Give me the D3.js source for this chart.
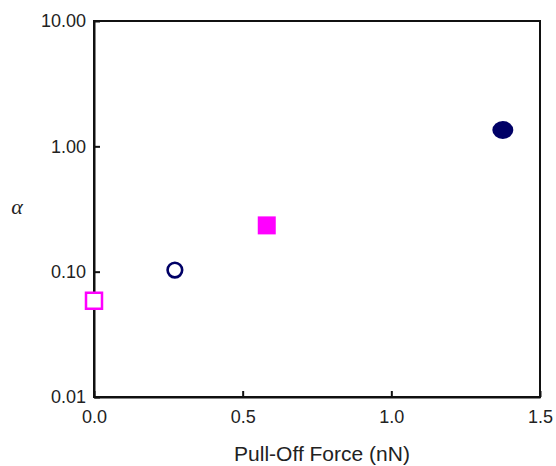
<!DOCTYPE html>
<html><head><meta charset="utf-8">
<script src="https://cdn.jsdelivr.net/npm/d3@7"></script>
<style>body{margin:0;background:#fff}</style>
</head><body>
<svg id="c" width="556" height="466"></svg>
<script>
const xTicks = [0.0, 0.5, 1.0, 1.5];
const yTicks = [0.01, 0.1, 1, 10];
const seriesNames = ["open square", "open circle", "filled square", "filled circle"];
const forceValues = [0.0, 0.272, 0.581, 1.375];
const alphaValues = [0.0586, 0.103, 0.234, 1.35];
const seriesColors = ["#ff00ff", "#000066", "#ff00ff", "#000066"];

const svg = d3.select("#c");
const m = {l: 94, r: 16, t: 21, b: 69};
const W = 556, H = 466;
const x = d3.scaleLinear().domain([0, 1.5]).range([m.l, W - m.r]);
const y = d3.scaleLog().domain([0.01, 10]).range([H - m.b, m.t]);

const font = "Liberation Sans, Arial, sans-serif";

// frame
svg.append("rect").attr("x", m.l).attr("y", m.t)
  .attr("width", x(1.5) - x(0)).attr("height", y(0.01) - y(10))
  .attr("fill", "none").attr("stroke", "#111").attr("stroke-width", 2);

const xa = svg.append("g").attr("transform", `translate(0,${y(0.01)})`)
  .call(d3.axisBottom(x).tickValues(xTicks).tickFormat(d3.format(".1f")).tickSizeInner(-6).tickSizeOuter(0).tickPadding(13));
xa.select(".domain").attr("stroke", "#111").attr("stroke-width", 2);
xa.selectAll(".tick line").attr("stroke", "#111").attr("stroke-width", 2);
xa.selectAll("text").attr("font-family", font).attr("font-size", 18).attr("fill", "#222");

const ya = svg.append("g").attr("transform", `translate(${x(0)},0)`)
  .call(d3.axisLeft(y).tickValues(yTicks).tickFormat(d3.format(".2f")).tickSizeInner(-6).tickSizeOuter(0).tickPadding(8));
ya.select(".domain").attr("stroke", "#111").attr("stroke-width", 2);
ya.selectAll(".tick line").attr("stroke", "#111").attr("stroke-width", 2);
ya.selectAll("text").attr("font-family", font).attr("font-size", 18).attr("fill", "#222");

// labels
svg.append("text").attr("x", 322).attr("y", 461)
  .attr("text-anchor", "middle").attr("font-family", font).attr("font-size", 21).attr("fill", "#222")
  .text("Pull-Off Force (nN)");
svg.append("text").attr("x", 17).attr("y", 214)
  .attr("text-anchor", "middle").attr("font-family", "Liberation Serif, Times New Roman, serif")
  .attr("font-style", "italic").attr("font-size", 22).attr("fill", "#222").text("α");

// points
const data = seriesNames.map((n, i) => ({name: n, f: forceValues[i], a: alphaValues[i], c: seriesColors[i]}));
const g = svg.append("g");
// open square
g.append("rect").datum(data[0])
  .attr("x", d => x(d.f) - 8).attr("y", d => y(d.a) - 8).attr("width", 16).attr("height", 16)
  .attr("fill", "#fff").attr("stroke", d => d.c).attr("stroke-width", 2.5);
// open circle
g.append("circle").datum(data[1])
  .attr("cx", d => x(d.f)).attr("cy", d => y(d.a)).attr("r", 7.3)
  .attr("fill", "none").attr("stroke", d => d.c).attr("stroke-width", 2.6);
// filled square
g.append("rect").datum(data[2])
  .attr("x", d => x(d.f) - 9).attr("y", d => y(d.a) - 9).attr("width", 18).attr("height", 18)
  .attr("fill", d => d.c);
// filled circle
g.append("ellipse").datum(data[3])
  .attr("cx", d => x(d.f)).attr("cy", d => y(d.a)).attr("rx", 10.5).attr("ry", 9)
  .attr("fill", d => d.c);
</script>
</body></html>
